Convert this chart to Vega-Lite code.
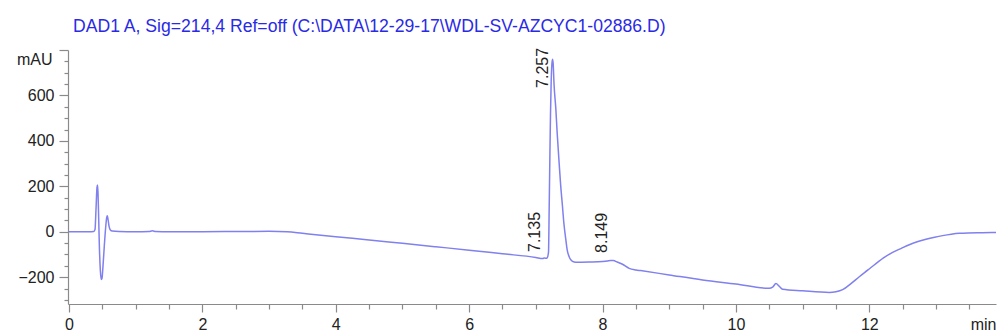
{
  "$schema": "https://vega.github.io/schema/vega-lite/v6.json",
  "width": 928,
  "height": 254,
  "autosize": "none",
  "padding": {"left": 68, "top": 50, "right": 3, "bottom": 29},
  "background": "white",
  "title": {
    "text": "DAD1 A, Sig=214,4 Ref=off (C:\\DATA\\12-29-17\\WDL-SV-AZCYC1-02886.D)",
    "anchor": "start",
    "frame": "group",
    "dx": 5,
    "offset": 12,
    "font": "Liberation Sans",
    "fontSize": 17.6,
    "fontWeight": "normal",
    "color": "#2a2ae6"
  },
  "config": {
    "view": {"stroke": null},
    "axis": {
      "domainColor": "#8a8a8a",
      "tickColor": "#8a8a8a",
      "labelColor": "#222222",
      "titleColor": "#222222",
      "labelFont": "Liberation Sans",
      "titleFont": "Liberation Sans",
      "labelFontSize": 16,
      "titleFontSize": 16,
      "titleFontWeight": "normal",
      "grid": false,
      "domainWidth": 1.2,
      "tickWidth": 1.2
    }
  },
  "datasets": {
    "trace": [
      {"t": 0, "v": 0}, {"t": 0.3, "v": 0}, {"t": 0.37, "v": 1}, {"t": 0.39, "v": 10},
      {"t": 0.405, "v": 100}, {"t": 0.42, "v": 195}, {"t": 0.428, "v": 206}, {"t": 0.435, "v": 170},
      {"t": 0.445, "v": 60}, {"t": 0.455, "v": -60}, {"t": 0.47, "v": -170}, {"t": 0.485, "v": -210},
      {"t": 0.495, "v": -205}, {"t": 0.51, "v": -150}, {"t": 0.53, "v": -60}, {"t": 0.55, "v": 20},
      {"t": 0.565, "v": 62}, {"t": 0.575, "v": 70}, {"t": 0.585, "v": 55}, {"t": 0.6, "v": 25},
      {"t": 0.62, "v": 8}, {"t": 0.65, "v": 3}, {"t": 0.75, "v": 1}, {"t": 1.0, "v": 0},
      {"t": 1.2, "v": 1}, {"t": 1.25, "v": 4}, {"t": 1.3, "v": 1}, {"t": 1.5, "v": 0},
      {"t": 2.0, "v": 0}, {"t": 2.5, "v": 1}, {"t": 3.0, "v": 2}, {"t": 3.27, "v": 0},
      {"t": 3.5, "v": -7}, {"t": 4.0, "v": -22}, {"t": 4.5, "v": -36}, {"t": 5.0, "v": -51},
      {"t": 5.5, "v": -66}, {"t": 6.0, "v": -81}, {"t": 6.5, "v": -97}, {"t": 7.0, "v": -113},
      {"t": 7.1, "v": -118}, {"t": 7.13, "v": -115}, {"t": 7.15, "v": -117}, {"t": 7.17, "v": -115},
      {"t": 7.19, "v": -90}, {"t": 7.2, "v": 100}, {"t": 7.21, "v": 320}, {"t": 7.22, "v": 520},
      {"t": 7.23, "v": 660}, {"t": 7.24, "v": 735}, {"t": 7.25, "v": 759}, {"t": 7.26, "v": 740},
      {"t": 7.272, "v": 655}, {"t": 7.3, "v": 540}, {"t": 7.32, "v": 435}, {"t": 7.35, "v": 300},
      {"t": 7.37, "v": 214}, {"t": 7.4, "v": 110}, {"t": 7.42, "v": 39}, {"t": 7.45, "v": -35},
      {"t": 7.47, "v": -80}, {"t": 7.5, "v": -110}, {"t": 7.52, "v": -122}, {"t": 7.55, "v": -130},
      {"t": 7.6, "v": -134}, {"t": 7.8, "v": -133}, {"t": 8.0, "v": -131}, {"t": 8.07, "v": -129},
      {"t": 8.12, "v": -126}, {"t": 8.16, "v": -127}, {"t": 8.22, "v": -133}, {"t": 8.3, "v": -143},
      {"t": 8.4, "v": -161}, {"t": 8.5, "v": -168}, {"t": 8.57, "v": -171}, {"t": 9.0, "v": -190},
      {"t": 9.5, "v": -212}, {"t": 10.0, "v": -230}, {"t": 10.5, "v": -249}, {"t": 10.55, "v": -244},
      {"t": 10.6, "v": -228}, {"t": 10.65, "v": -240}, {"t": 10.7, "v": -253}, {"t": 11.0, "v": -260},
      {"t": 11.4, "v": -267}, {"t": 11.5, "v": -264}, {"t": 11.6, "v": -255}, {"t": 11.73, "v": -227},
      {"t": 11.85, "v": -198}, {"t": 11.98, "v": -168}, {"t": 12.1, "v": -140}, {"t": 12.23, "v": -112},
      {"t": 12.35, "v": -91}, {"t": 12.48, "v": -73}, {"t": 12.6, "v": -57}, {"t": 12.73, "v": -43},
      {"t": 12.85, "v": -33}, {"t": 12.98, "v": -24}, {"t": 13.1, "v": -17}, {"t": 13.23, "v": -11},
      {"t": 13.35, "v": -7}, {"t": 13.48, "v": -5}, {"t": 13.7, "v": -4}, {"t": 13.9, "v": -3}
    ],
    "peaks": [
      {"rt": 7.135, "ly": -89, "label": "7.135"},
      {"rt": 7.257, "ly": 633, "label": "7.257"},
      {"rt": 8.149, "ly": -93, "label": "8.149"}
    ]
  },
  "resolve": {"axis": {"x": "independent", "y": "independent"}},
  "layer": [
    {
      "data": {"name": "trace"},
      "mark": {"type": "line", "color": "#8080ee", "strokeWidth": 1.5, "interpolate": "monotone"},
      "encoding": {
        "x": {
          "field": "t", "type": "quantitative",
          "scale": {"domain": [-0.015, 13.9], "nice": false, "zero": false},
          "axis": {
            "orient": "bottom",
            "values": [0, 2, 4, 6, 8, 10, 12],
            "format": "d",
            "tickSize": 8,
            "labelPadding": 4,
            "labelFlush": false,
            "title": "min",
            "titleAlign": "right",
            "titleAnchor": "end",
            "titleX": 928,
            "titleY": 25,
            "titleBaseline": "alphabetic"
          }
        },
        "y": {
          "field": "v", "type": "quantitative",
          "scale": {"domain": [-318, 800], "nice": false, "zero": false},
          "axis": {
            "orient": "left",
            "values": [-200, 0, 200, 400, 600, 800],
            "labelExpr": "datum.value === 800 ? '' : datum.label",
            "tickSize": 9,
            "labelPadding": 5,
            "title": "mAU",
            "titleAngle": 0,
            "titleAlign": "right",
            "titleBaseline": "middle",
            "titleX": -16,
            "titleY": 9
          }
        }
      }
    },
    {
      "data": {"name": "peaks"},
      "mark": {"type": "text", "angle": -90, "align": "left", "baseline": "bottom", "dy": -2, "font": "Liberation Sans", "fontSize": 16, "color": "#222222"},
      "encoding": {
        "x": {
          "field": "rt", "type": "quantitative",
          "axis": {
            "orient": "bottom",
            "values": [0.5, 1, 1.5, 2.5, 3, 3.5, 4.5, 5, 5.5, 6.5, 7, 7.5, 8.5, 9, 9.5, 10.5, 11, 11.5, 12.5, 13, 13.5],
            "labels": false, "domain": false, "tickSize": 5, "title": null
          }
        },
        "y": {
          "field": "ly", "type": "quantitative",
          "axis": {
            "orient": "left",
            "values": [-300, -250, -150, -100, -50, 50, 100, 150, 250, 300, 350, 450, 500, 550, 650, 700, 750],
            "labels": false, "domain": false, "tickSize": 4, "title": null
          }
        },
        "text": {"field": "label"}
      }
    }
  ]
}
